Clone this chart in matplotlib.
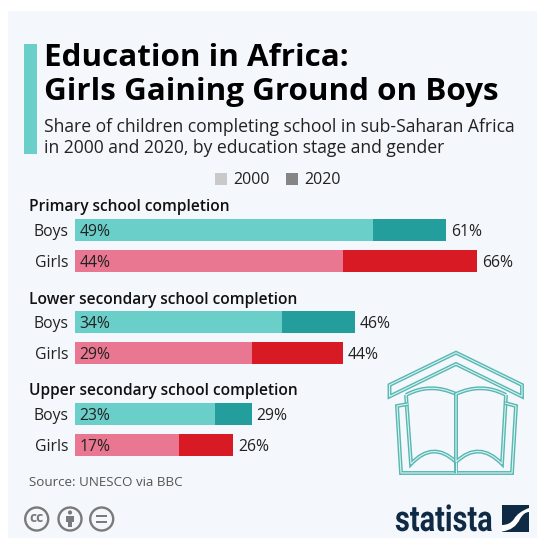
import matplotlib
matplotlib.use('Agg')
import matplotlib.pyplot as plt
from matplotlib.patches import Rectangle, Circle, PathPatch, Polygon
from matplotlib.path import Path
from matplotlib.patheffects import AbstractPathEffect
from matplotlib.transforms import Affine2D

plt.rcParams['font.family'] = ['Open Sans', 'DejaVu Sans']

stages = ['Primary school completion', 'Lower secondary school completion', 'Upper secondary school completion']
genders = ['Boys', 'Girls']
boys_2000 = [49, 34, 23]
boys_2020 = [61, 46, 29]
girls_2000 = [44, 29, 17]
girls_2020 = [66, 44, 26]
legend_years = ['2000', '2020']

W, H = 537, 538
BG = '#f4f7fb'
TEAL_LIGHT = '#6bcfc9'
TEAL_DARK = '#249e9d'
PINK = '#ea7791'
RED = '#d71a24'
TEXT = '#222222'
NAVY = '#0f2a45'
ICON = '#55b8b2'


class Squeeze(AbstractPathEffect):
    # narrows text horizontally, there is no condensed bold font to hand
    def __init__(self, factor):
        super().__init__()
        self.factor = factor

    def draw_path(self, renderer, gc, tpath, affine, rgbFace=None):
        renderer.draw_path(gc, tpath, Affine2D().scale(self.factor, 1) + affine, rgbFace)


fig = plt.figure(figsize=(W / 100, H / 100), dpi=100, facecolor='white')

# canvas in pixel coordinates for everything around the bars
canvas = fig.add_axes([0, 0, 1, 1])
canvas.set_xlim(0, W)
canvas.set_ylim(H, 0)
canvas.axis('off')

canvas.add_patch(Rectangle((8, 11), W - 8, H - 11, fc=BG, ec='none'))
canvas.add_patch(Rectangle((24, 43.5), 12.5, 110, fc=TEAL_LIGHT, ec='none'))

canvas.text(44, 66, 'Education in Africa:', fontsize=22.6, fontweight='bold', color='black', va='baseline')
canvas.text(44, 100, 'Girls Gaining Ground on Boys', fontsize=22.6, fontweight='bold', color='black', va='baseline')
canvas.text(44, 131.5, 'Share of children completing school in sub-Saharan Africa', fontsize=12.65, color=TEXT, va='baseline')
canvas.text(44, 153, 'in 2000 and 2020, by education stage and gender', fontsize=12.65, color=TEXT, va='baseline')

# legend
for x, year, col in zip([215, 286], legend_years, ['#c9c9c9', '#858585']):
    canvas.add_patch(Rectangle((x, 173), 11.5, 11.5, fc=col, ec='none'))
    canvas.text(x + 18, 184, year, fontsize=11.5, color=TEXT, va='baseline')

# bars, x axis in percent
x0 = 75
per_pct = 6.09
ax = fig.add_axes([x0 / W, 0, (W - x0) / W, 1])
ax.set_xlim(0, (W - x0) / per_pct)
ax.set_ylim(H, 0)
ax.axis('off')
ax.patch.set_alpha(0)

group_tops = [230, 322, 414]
title_base = [211, 304, 395]
row_gap = 31
bar_h = 22.5

for i, stage in enumerate(stages):
    canvas.text(29, title_base[i], stage, fontsize=11.2, fontweight=600, color='#111111', va='baseline')
    rows = [(boys_2000[i], boys_2020[i], TEAL_LIGHT, TEAL_DARK),
            (girls_2000[i], girls_2020[i], PINK, RED)]
    for j, (v00, v20, light, dark) in enumerate(rows):
        y = group_tops[i] + j * row_gap
        ax.barh(y, v20, height=bar_h, color=dark)
        ax.barh(y, v00, height=bar_h, color=light)
        ax.annotate(f'{v00}%', (0, y), xytext=(3.4, 0), textcoords='offset points',
                    fontsize=11.3, color=TEXT, va='center_baseline', ha='left')
        ax.annotate(f'{v20}%', (v20, y), xytext=(3.4, 0), textcoords='offset points',
                    fontsize=11.3, color=TEXT, va='center_baseline', ha='left')
        ax.annotate(genders[j], (0, y), xytext=(-4.4, 0), textcoords='offset points',
                    fontsize=11.3, color=TEXT, va='center_baseline', ha='right')

canvas.text(29, 486, 'Source: UNESCO via BBC', fontsize=9.6, color='#555555', va='baseline')


# school icon: each outline is a teal stroke with a pale core
def outline(verts, codes=None, closed=False):
    if codes is None:
        codes = [Path.MOVETO] + [Path.LINETO] * (len(verts) - 1)
    if closed:
        verts = list(verts) + [verts[0]]
        codes = list(codes) + [Path.CLOSEPOLY]
    for lw, col in [(2.8, ICON), (0.8, '#dff1f0')]:
        canvas.add_patch(PathPatch(Path(verts, codes), fc='none', ec=col, lw=lw, joinstyle='miter', zorder=3))


outline([(389.5, 385), (456, 352.7), (522, 385), (522, 396.5), (456, 364), (389.5, 396.5)], closed=True)

page_codes = [Path.MOVETO, Path.CURVE3, Path.CURVE3, Path.LINETO, Path.CURVE3, Path.CURVE3, Path.LINETO]
outline([(406, 395), (430, 382), (456, 394), (456, 462), (433, 440), (411, 464), (406, 395)], page_codes)
outline([(506, 395), (482, 382), (456, 394), (456, 462), (479, 440), (502, 464), (506, 395)], page_codes)
outline([(408, 404), (397, 406), (401, 473), (512, 473), (516, 406), (505, 403)])
outline([(456, 462), (456, 473)])

# statista logo
logo_text = canvas.text(395, 531, 'statista', fontsize=26, fontweight='bold', color=NAVY, va='baseline',
                        family=['Roboto', 'DejaVu Sans'])
logo_text.set_path_effects([Squeeze(0.8)])
canvas.add_patch(Rectangle((502, 505), 27, 26.5, fc=NAVY, ec='none', zorder=3))
swoosh = Path([(502, 525), (510, 525), (514, 519), (518, 512), (529, 508),
               (529, 512), (524, 512), (520, 519), (515, 530), (502, 531.5), (502, 525)],
              [Path.MOVETO, Path.CURVE3, Path.CURVE3, Path.CURVE3, Path.CURVE3,
               Path.LINETO, Path.CURVE3, Path.CURVE3, Path.CURVE3, Path.CURVE3, Path.CLOSEPOLY])
canvas.add_patch(PathPatch(swoosh, fc='white', ec='none', zorder=4))

# licence badges
GREY = '#7a7a7a'
for cx in [36.7, 70, 101.7]:
    canvas.add_patch(Circle((cx, 519), 11.5, fc='none', ec=GREY, lw=1.7))
canvas.text(36.7, 518.5, 'cc', fontsize=10, fontweight='bold', color=GREY, ha='center', va='center')
canvas.add_patch(Circle((70, 512.5), 2.1, fc=GREY, ec='none'))
canvas.add_patch(Polygon([(66, 515.5), (74, 515.5), (74, 522), (72.3, 522), (72.3, 527), (67.7, 527), (67.7, 522), (66, 522)],
                         closed=True, fc=GREY, ec='none'))
canvas.add_patch(Rectangle((96, 514.5), 11.4, 2.6, fc=GREY, ec='none'))
canvas.add_patch(Rectangle((96, 520.5), 11.4, 2.6, fc=GREY, ec='none'))

fig.savefig('out.png', dpi=100)
